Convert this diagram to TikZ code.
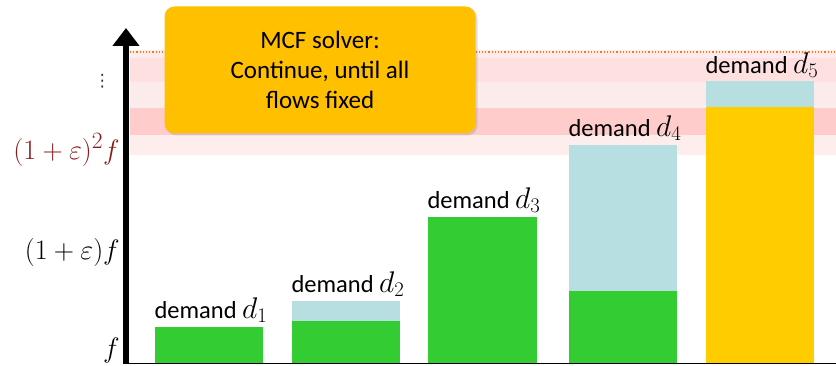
\documentclass[tikz,border=0pt]{standalone}
\usepackage{graphicx}
\usepackage{fontspec}
\setmainfont{Carlito}
\newfontfamily\symfont{DejaVu Sans}
\usetikzlibrary{arrows.meta,shadows}
\definecolor{flowgreen}{HTML}{33CC33}
\definecolor{restblue}{HTML}{B7DEE1}
\definecolor{fixedgold}{HTML}{FFCC00}
\definecolor{boxgold}{HTML}{FFC000}
\definecolor{levelred}{HTML}{8B1A1A}
% demand symbol d_i, set a little larger than the words around it
\newcommand{\demsym}[1]{\scalebox{1.2}{$d_{#1}$}}
% level labels on the axis
\newcommand{\lvl}[1]{\scalebox{1.13}{$#1$}}
\begin{document}
\begin{tikzpicture}[x=1pt,y=-1pt,
  lbl/.style={font=\fontsize{24.5}{28}\selectfont, inner sep=1pt, anchor=south},
  ylbl/.style={font=\Huge, anchor=east, inner sep=1pt},
  solverbox/.style={fill=boxgold, rounded corners=10pt, draw=none,
    drop shadow={opacity=0.25, shadow xshift=2pt, shadow yshift=-2pt},
    minimum width=311pt, minimum height=127pt, align=center,
    font=\fontsize{25}{30}\selectfont, inner sep=0pt}]
\useasboundingbox (0,0) rectangle (836,366);

% highlighted level band
\fill[red!8] (130,50) rectangle (836,155);
\fill[red!12] (130,58) rectangle (836,82);
\fill[black!12!red!8] (130,82) rectangle (836,108);
\fill[red!20] (130,108) rectangle (836,135);
\fill[black!12!red!7] (130,135) rectangle (836,155);
\draw[orange!70!brown, line width=1.2pt, dotted] (130,52) -- (836,52);

% bars: demand d1 ... d5
\fill[flowgreen] (155,327) rectangle (263,363);
\fill[restblue] (292,301) rectangle (400,321);
\fill[flowgreen] (292,321) rectangle (400,363);
\fill[flowgreen] (428,217) rectangle (537,363);
\fill[restblue] (569,145) rectangle (677,291);
\fill[flowgreen] (569,291) rectangle (677,363);
\fill[restblue] (706,81) rectangle (814,107);
\fill[fixedgold] (706,107) rectangle (814,363);

\node[lbl] (l1) at (211,324) {demand \demsym{1}};
\node[lbl] (l2) at (348,298) {demand \demsym{2}};
\node[lbl] (l3) at (484,214) {demand \demsym{3}};
\node[lbl] (l4) at (625,142) {demand \demsym{4}};
\node[lbl] (l5) at (762,79) {demand \demsym{5}};

% axes
\coordinate (o) at (126,364);
\coordinate (top) at (126,28);
\coordinate (xend) at (836,363);
\draw[line width=0.8pt] (123,363) -- (xend);
\draw[line width=6pt, -{Triangle[width=26pt,length=18pt]}] (o) -- (top);

% level labels
\node[ylbl] (yf) at (121,350) {\lvl{f}};
\node[ylbl] (yf1) at (121,252) {\lvl{(1+\varepsilon)f}};
\node[ylbl, text=levelred] (yf2) at (121,150) {\lvl{(1+\varepsilon)^2f}};
\node[ylbl, text=black!80, font=\symfont\fontsize{17}{17}\selectfont] (ydots) at (112,81) {⋮};

% solver note
\node[solverbox] (solver) at (320,70) {MCF solver:\\Continue, until all\\flows fixed};
\end{tikzpicture}
\end{document}
